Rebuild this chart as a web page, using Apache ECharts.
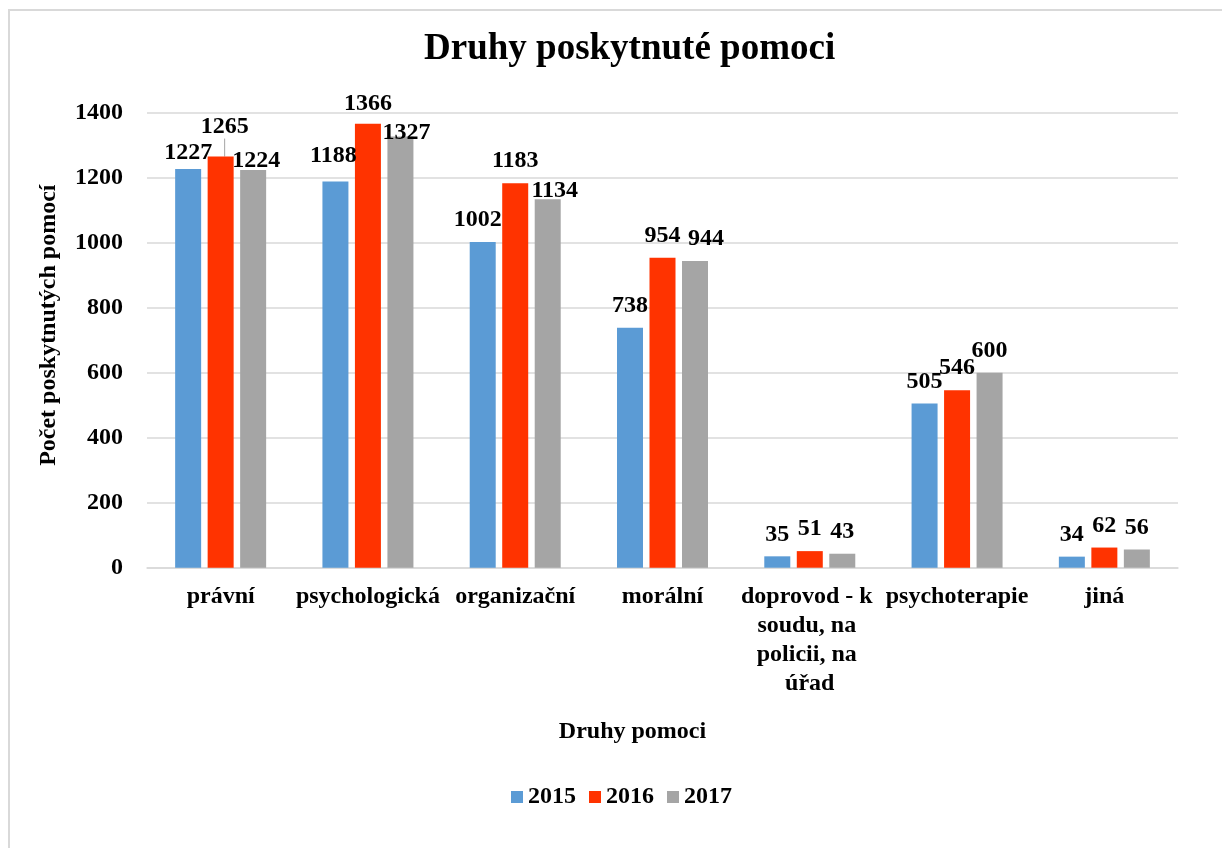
<!DOCTYPE html>
<html>
<head>
<meta charset="utf-8">
<script src="https://cdn.jsdelivr.net/npm/echarts@6/dist/echarts.min.js"></script>
<style>
html,body{margin:0;padding:0;background:#fff;}
#chart{width:1222px;height:848px;}
</style>
</head>
<body>
<div id="chart"></div>
<script>
const categories = ['právní', 'psychologická', 'organizační', 'morální', 'doprovod - k soudu, na policii, na úřad', 'psychoterapie', 'jiná'];
const seriesNames = ['2015', '2016', '2017'];
const values2015 = [1227, 1188, 1002, 738, 35, 505, 34];
const values2016 = [1265, 1366, 1183, 954, 51, 546, 62];
const values2017 = [1224, 1327, 1134, 944, 43, 600, 56];
const yTicks = [0, 200, 400, 600, 800, 1000, 1200, 1400];

const FONT = "'Liberation Serif', 'Times New Roman', serif";
const colors = ['#5B9BD5', '#FF3300', '#A5A5A5'];

// manual label nudges (series index -> data index -> [dx, dy]), as placed in the original
const labelNudges = {
  0: {0: [0, 6], 1: [-2, -4], 2: [-5, 0]},
  1: {0: [4, -8], 1: [0, 2]},
  2: {0: [3, 13], 1: [6, 18], 2: [7, 14], 3: [11, 0]}
};
// the one label that was pulled away and got a leader line
const leaderLine = {series: 1, index: 0};

const allValues = [values2015, values2016, values2017];

const chart = echarts.init(document.getElementById('chart'), null, {renderer: 'canvas'});

const series = allValues.map((vals, si) => ({
  name: seriesNames[si],
  type: 'bar',
  data: vals.map((v, di) => (si === leaderLine.series && di === leaderLine.index)
    ? {value: v, labelLine: {show: true, lineStyle: {color: '#A5A5A5', width: 1}}}
    : v),
  barWidth: 26,
  barGap: '25%',
  itemStyle: {color: colors[si]},
  label: {
    show: true,
    position: 'top',
    distance: 10,
    fontFamily: FONT,
    fontWeight: 'bold',
    fontSize: 24,
    color: '#000'
  },
  labelLine: {show: false},
  labelLayout: function (p) {
    const n = labelNudges[si] && labelNudges[si][p.dataIndex];
    if (!n) return {};
    return {dx: n[0], dy: n[1]};
  }
}));

const option = {
  animation: false,
  backgroundColor: '#fff',
  textStyle: {fontFamily: FONT},
  graphic: [{
    type: 'rect',
    shape: {x: 9, y: 10, width: 1300, height: 900},
    style: {fill: 'none', stroke: '#D9D9D9', lineWidth: 2},
    silent: true,
    z: -10
  }],
  title: {
    text: 'Druhy poskytnuté pomoci',
    left: 424,
    top: 31,
    padding: 0,
    textStyle: {fontFamily: FONT, fontWeight: 'bold', fontSize: 37, color: '#000'}
  },
  legend: {
    data: seriesNames,
    left: 511,
    top: 785,
    padding: 0,
    itemWidth: 12,
    itemHeight: 12,
    itemGap: 13,
    icon: 'rect',
    textStyle: {fontFamily: FONT, fontWeight: 'bold', fontSize: 24, color: '#000'}
  },
  grid: {left: 147, right: 44, top: 112.7, bottom: 280.3, containLabel: false},
  xAxis: {
    type: 'category',
    data: categories.map(c => c.length > 20 ? {value: c, textStyle: {width: 140, overflow: 'break'}} : c),
    name: 'Druhy pomoci',
    nameLocation: 'middle',
    nameGap: 152,
    nameTextStyle: {fontFamily: FONT, fontWeight: 'bold', fontSize: 24, color: '#000', padding: [0, 60, 0, 0]},
    axisLine: {show: true, lineStyle: {color: '#D9D9D9', width: 1.5}},
    axisTick: {show: false},
    axisLabel: {
      interval: 0,
      margin: 15,
      fontFamily: FONT,
      fontWeight: 'bold',
      fontSize: 24,
      lineHeight: 29,
      color: '#000'
    }
  },
  yAxis: {
    type: 'value',
    min: yTicks[0],
    max: yTicks[yTicks.length - 1],
    interval: yTicks[1] - yTicks[0],
    name: 'Počet poskytnutých pomocí',
    nameLocation: 'middle',
    nameRotate: 90,
    nameGap: 86,
    nameTextStyle: {fontFamily: FONT, fontWeight: 'bold', fontSize: 24, color: '#000', padding: [0, 0, 0, 30]},
    axisLine: {show: false},
    axisTick: {show: false},
    splitLine: {lineStyle: {color: '#D9D9D9', width: 1.5}},
    axisLabel: {
      margin: 24,
      formatter: v => String(v),
      fontFamily: FONT,
      fontWeight: 'bold',
      fontSize: 24,
      color: '#000'
    }
  },
  series: series
};

chart.setOption(option);
</script>
</body>
</html>
